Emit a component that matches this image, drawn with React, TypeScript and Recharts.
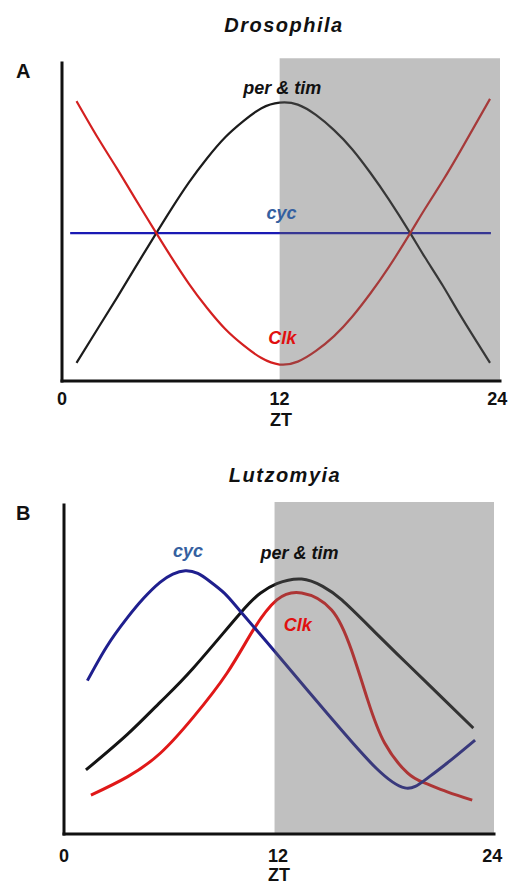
import { LineChart, Line, XAxis, YAxis, ReferenceArea, ReferenceDot, Label } from "recharts";

const FONT = "'Liberation Sans', Arial, Helvetica, sans-serif";

const ztTicks = [0, 12, 24];

// A: Drosophila (relative mRNA level, 0-100)
const droZt = [0.8, 2, 3, 4, 5.2, 6, 7, 8, 9, 10, 11, 12, 13, 14, 15, 16, 17, 18, 19.2, 20, 21, 22, 23.6];
const droPerTim = [5.6, 16.5, 25.5, 34.8, 45.8, 53, 61.5, 69, 75.5, 80.5, 84.5, 86.2, 85.6, 82.4, 77.7, 71.8, 64.5, 56.4, 45.8, 38.4, 29.5, 20, 5.6];
const droClk = [86.7, 75.1, 66.1, 56.8, 45.8, 38.6, 30.1, 22.6, 16.1, 11.1, 7.1, 5.1, 6.0, 9.3, 13.9, 19.9, 27.1, 35.1, 45.8, 53.2, 62.1, 71.6, 87.4];
const droCycZt = [0.45, 23.65];
const droCyc = [45.8, 45.8];

// B: Lutzomyia
const lutCycZt = [1.31, 2.4, 3.5, 4.46, 5.38, 6.1, 6.8, 7.5, 8.2, 9.0, 9.87, 11.72, 13.6, 15.6, 17.5, 19.1, 20.24, 21.48, 23.04];
const lutCyc = [46.2, 56.5, 64.8, 71, 75.8, 78.3, 79.3, 78.5, 76, 72.5, 67.2, 55.6, 43.6, 31, 19.8, 13.9, 16.3, 21.4, 28.3];
const lutPerTimZt = [1.23, 3.55, 5.41, 7.25, 9.88, 11, 11.93, 13.32, 14.5, 15.57, 17.41, 19.25, 21.13, 22.94];
const lutPerTim = [19.3, 30, 39.8, 50, 66.5, 72.5, 75.4, 76.8, 74.6, 70.5, 60.9, 51.2, 41.4, 31.9];
const lutClkZt = [1.51, 3.55, 5.41, 7.25, 9.14, 10.6, 11.93, 13.32, 15.0, 16.11, 17.02, 17.97, 19.25, 20.2, 21.48, 22.88];
const lutClk = [11.7, 17.2, 24.4, 35.2, 48.5, 61.4, 70.5, 72.6, 67.5, 55.4, 40.4, 27.4, 18.4, 15.4, 12.7, 10.2];

const toPoints = (zt: number[], v: number[]) => zt.map((x, i) => ({ zt: x, v: v[i] }));

const tickStyle = { fontSize: 18, fontWeight: 700, fill: "#111", fontFamily: FONT };
const axisLine = { stroke: "#111", strokeWidth: 3, strokeLinecap: "square" as const };

type Series = {
  key: string;
  data: { zt: number; v: number }[];
  color: string;
  width: number;
  type?: "monotone" | "linear" | "natural";
};
type Tag = { text: string; zt: number; v: number; color: string };

function Panel({
  height,
  margin,
  xMax,
  yMax,
  darkFrom,
  axisHeight,
  tickGap,
  ztOffset,
  series,
  tags,
}: {
  height: number;
  margin: { top: number; right: number; bottom: number; left: number };
  xMax: number;
  yMax: number;
  darkFrom: number;
  axisHeight: number;
  tickGap: number;
  ztOffset: number;
  series: Series[];
  tags: Tag[];
}) {
  return (
    <LineChart width={511} height={height} margin={margin}>
      <XAxis
        dataKey="zt"
        type="number"
        domain={[0, xMax]}
        ticks={ztTicks}
        allowDataOverflow
        height={axisHeight}
        tickLine={false}
        tickSize={0}
        tickMargin={tickGap}
        axisLine={axisLine}
        tick={tickStyle}
      >
        <Label
          value="ZT"
          position="insideBottom"
          offset={ztOffset}
          style={{ fontSize: 18, fontWeight: 700, fill: "#111", fontFamily: FONT }}
        />
      </XAxis>
      <YAxis
        type="number"
        domain={[0, yMax]}
        ticks={[0, yMax]}
        width={1}
        tick={false}
        tickLine={false}
        axisLine={axisLine}
        allowDataOverflow
      />
      {series.map((s) => (
        <Line
          key={s.key}
          data={s.data}
          dataKey="v"
          type={s.type ?? "natural"}
          stroke={s.color}
          strokeWidth={s.width}
          dot={false}
          activeDot={false}
          isAnimationActive={false}
        />
      ))}
      <ReferenceArea
        x1={darkFrom}
        x2={xMax}
        y1={0}
        y2={100}
        fill="#626262"
        fillOpacity={0.4}
        stroke="none"
        ifOverflow="visible"
        zIndex={450}
      />
      {tags.map((t) => (
        <ReferenceDot
          key={t.text}
          x={t.zt}
          y={t.v}
          r={0}
          fill="none"
          stroke="none"
          ifOverflow="visible"
          label={{
            value: t.text,
            position: "center",
            fill: t.color,
            fontSize: 18,
            fontWeight: 700,
            fontStyle: "italic",
            fontFamily: FONT,
          }}
        />
      ))}
    </LineChart>
  );
}

const titleStyle = {
  position: "absolute" as const,
  transform: "translateX(-50%)",
  fontFamily: FONT,
  fontWeight: 700,
  fontStyle: "italic",
  fontSize: 20,
  letterSpacing: 1.5,
  lineHeight: "20px",
  whiteSpace: "nowrap" as const,
  color: "#111",
};

const letterStyle = {
  position: "absolute" as const,
  fontFamily: FONT,
  fontWeight: 700,
  fontSize: 20,
  lineHeight: "20px",
  color: "#111",
};

export default function App() {
  return (
    <div style={{ position: "absolute", left: 0, top: 0, width: 511, height: 885, background: "#fff", fontFamily: FONT }}>
      <div style={{ ...titleStyle, left: 284, top: 15 }}>Drosophila</div>
      <div style={{ ...letterStyle, left: 16, top: 61 }}>A</div>
      <div style={{ position: "absolute", left: 0, top: 0 }}>
        <Panel
          height={440}
          margin={{ top: 63, right: 11, bottom: 9, left: 61 }}
          xMax={24.15}
          yMax={98.5}
          darkFrom={12}
          axisHeight={50}
          tickGap={11}
          ztOffset={5}
          series={[
            { key: "cyc", data: toPoints(droCycZt, droCyc), color: "#1a1ab4", width: 2.2, type: "linear" },
            { key: "per", data: toPoints(droZt, droPerTim), color: "#1c1c1c", width: 2.2 },
            { key: "clk", data: toPoints(droZt, droClk), color: "#d42020", width: 2.2 },
          ]}
          tags={[
            { text: "per & tim", zt: 12.15, v: 91, color: "#111" },
            { text: "cyc", zt: 12.1, v: 52.3, color: "#3560a0" },
            { text: "Clk", zt: 12.15, v: 13.5, color: "#e01010" },
          ]}
        />
      </div>

      <div style={{ ...titleStyle, left: 285, top: 465 }}>Lutzomyia</div>
      <div style={{ ...letterStyle, left: 16, top: 503 }}>B</div>
      <div style={{ position: "absolute", left: 0, top: 440 }}>
        <Panel
          height={445}
          margin={{ top: 65, right: 17, bottom: 2, left: 63 }}
          xMax={24.1}
          yMax={99.1}
          darkFrom={11.8}
          axisHeight={49}
          tickGap={15}
          ztOffset={2}
          series={[
            { key: "per", data: toPoints(lutPerTimZt, lutPerTim), color: "#141414", width: 3 },
            { key: "clk", data: toPoints(lutClkZt, lutClk), color: "#e01818", width: 3 },
            { key: "cyc", data: toPoints(lutCycZt, lutCyc), color: "#1f1f8e", width: 3 },
          ]}
          tags={[
            { text: "cyc", zt: 6.95, v: 85.5, color: "#3560a0" },
            { text: "per & tim", zt: 13.2, v: 84.8, color: "#111" },
            { text: "Clk", zt: 13.1, v: 63.1, color: "#e01010" },
          ]}
        />
      </div>
    </div>
  );
}
